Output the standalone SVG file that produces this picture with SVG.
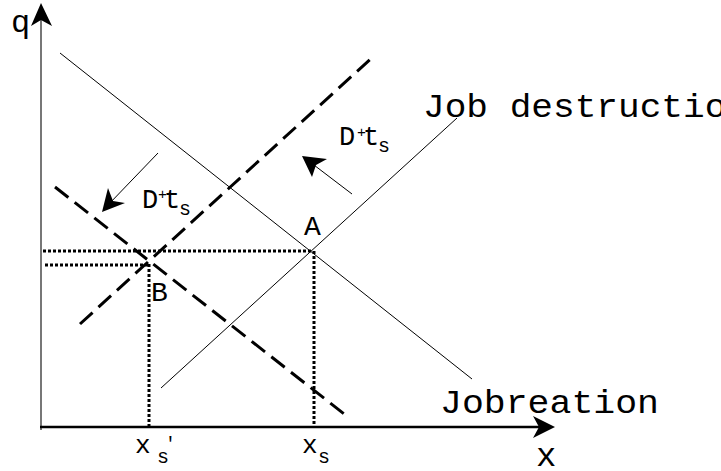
<svg xmlns="http://www.w3.org/2000/svg" width="721" height="471" viewBox="0 0 721 471">
<style>
.t{font-family:"Liberation Mono","Courier New",monospace;fill:#000}
.thin{stroke:#000;stroke-width:1;fill:none}
.dash{stroke:#000;stroke-width:3;stroke-dasharray:17 8;fill:none}
.dot{stroke:#000;stroke-width:3;stroke-dasharray:3 2;fill:none}
.head{fill:#000;stroke:none}
</style>
<rect width="721" height="471" fill="#fff"/>
<g id="axes">
<line x1="41" y1="20" x2="41" y2="430" stroke="#777" stroke-width="2"/>
<path class="head" d="M41,3 L31,26 L41,20 L52,26 Z"/>
<line x1="40" y1="427" x2="540" y2="427" stroke="#000" stroke-width="2.5"/>
<path class="head" d="M555,427 L533,416 L539,427 L533,438 Z"/>
<text class="t" x="11" y="32" font-size="32">q</text>
<text class="t" x="536" y="466" font-size="34">x</text>
</g>
<g id="connectors">
<line id="job-creation" class="thin" x1="60" y1="53" x2="472" y2="379"/>
<line id="job-destruction" class="thin" x1="161" y1="388" x2="457" y2="118"/>
<line id="shifted-destruction" class="dash" x1="80" y1="324" x2="375" y2="55"/>
<line id="shifted-creation" class="dash" x1="55" y1="187" x2="348" y2="417"/>
<line class="dot" x1="43" y1="251" x2="313" y2="251"/>
<line class="dot" x1="45" y1="265" x2="148" y2="265"/>
<line class="dot" x1="149" y1="264" x2="149" y2="426"/>
<line class="dot" x1="314" y1="251" x2="314" y2="426"/>
<line class="thin" x1="352" y1="194" x2="310" y2="162"/>
<path class="head" d="M302,156 L327,159 L316,165 L312,177 Z"/>
<line class="thin" x1="158" y1="153" x2="108" y2="205"/>
<path class="head" d="M102,212 L108,188 L113,201 L125,203 Z"/>
</g>
<g id="label-job-destruction"><text class="t" x="423" y="117" font-size="34" textLength="325" lengthAdjust="spacingAndGlyphs">Job destruction</text></g>
<g id="label-job-creation"><text class="t" x="440" y="413" font-size="34" textLength="219" lengthAdjust="spacingAndGlyphs">Jobreation</text></g>
<g id="label-A"><text class="t" x="304" y="235" font-size="28">A</text></g>
<g id="label-B"><text class="t" x="151" y="301" font-size="28">B</text></g>
<g id="label-dts1">
<text class="t" x="339" y="145" font-size="27">D</text>
<text class="t" x="357" y="137" font-size="15">+</text>
<text class="t" x="363" y="145" font-size="27">t</text>
<text class="t" x="378" y="152" font-size="20">s</text>
</g>
<g id="label-dts2">
<text class="t" x="142" y="208" font-size="27">D</text>
<text class="t" x="158" y="199" font-size="15">+</text>
<text class="t" x="164" y="208" font-size="27">t</text>
<text class="t" x="179" y="215" font-size="20">s</text>
</g>
<g id="label-xs-prime">
<text class="t" x="135" y="453" font-size="26">x</text>
<text class="t" x="157" y="463" font-size="20">s</text>
<text class="t" x="165" y="449" font-size="18">'</text>
</g>
<g id="label-xs">
<text class="t" x="302" y="453" font-size="26">x</text>
<text class="t" x="318" y="463" font-size="20">s</text>
</g>
</svg>
